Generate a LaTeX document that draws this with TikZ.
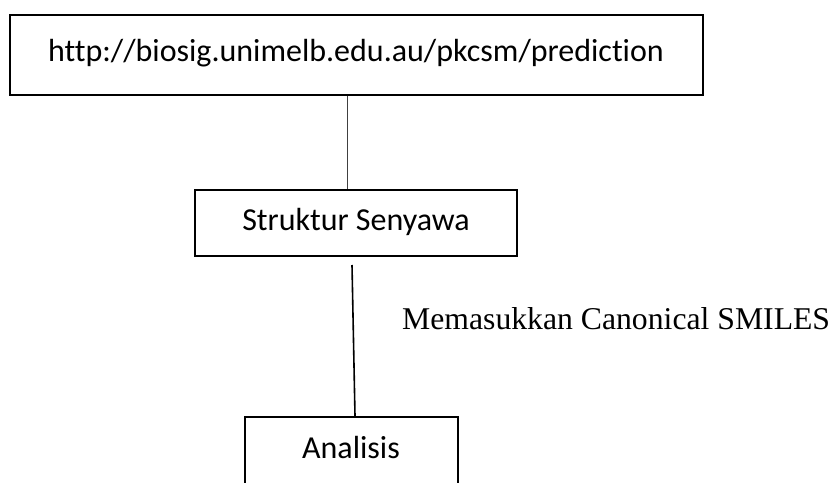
\documentclass[tikz,border=0pt]{standalone}
\usepackage{fontspec}
\setmainfont{Liberation Serif}
\newfontfamily\carlito[Ligatures=NoCommon]{Carlito}
\usetikzlibrary{calc}
\tikzset{
  box/.style={draw=black, line width=2pt, rectangle, inner sep=0pt, fill=white},
  cal/.style={font=\carlito\fontsize{32}{38}\selectfont, inner sep=0pt, anchor=base},
  tnr/.style={font=\fontsize{31.7}{38}\selectfont, inner sep=0pt, anchor=base west},
  thinlink/.style={draw=black!75, line width=1pt},
  link/.style={draw=black, line width=1.6pt}
}
\begin{document}
\begin{tikzpicture}[x=1pt,y=1pt]
\useasboundingbox (0,0) rectangle (835,-482);
% boxes
\node[box, minimum width=693pt, minimum height=80pt] (url) at (356,-55) {};
\node[box, minimum width=322pt, minimum height=66pt] (mid) at (356,-223) {};
\node[box, minimum width=213pt, minimum height=90pt] (bot) at (351.5,-462) {};
% texts
\node[cal] (urlt) at (356,-61) {http://biosig.unimelb.edu.au/pkcsm/prediction};
\node[cal] (midt) at (356,-230) {Struktur Senyawa};
\node[cal] (bott) at (351,-458) {Analisis};
\node[tnr] (smiles) at (402,-329) {Memasukkan Canonical SMILES};
% connectors
\coordinate (c1) at (347,0);
\coordinate (c2a) at (352,-265);
\coordinate (c2b) at (355,0);
\draw[thinlink] (url.south -| c1) -- (mid.north -| c1);
\draw[link] (c2a) -- (bot.north -| c2b);
\end{tikzpicture}
\end{document}
